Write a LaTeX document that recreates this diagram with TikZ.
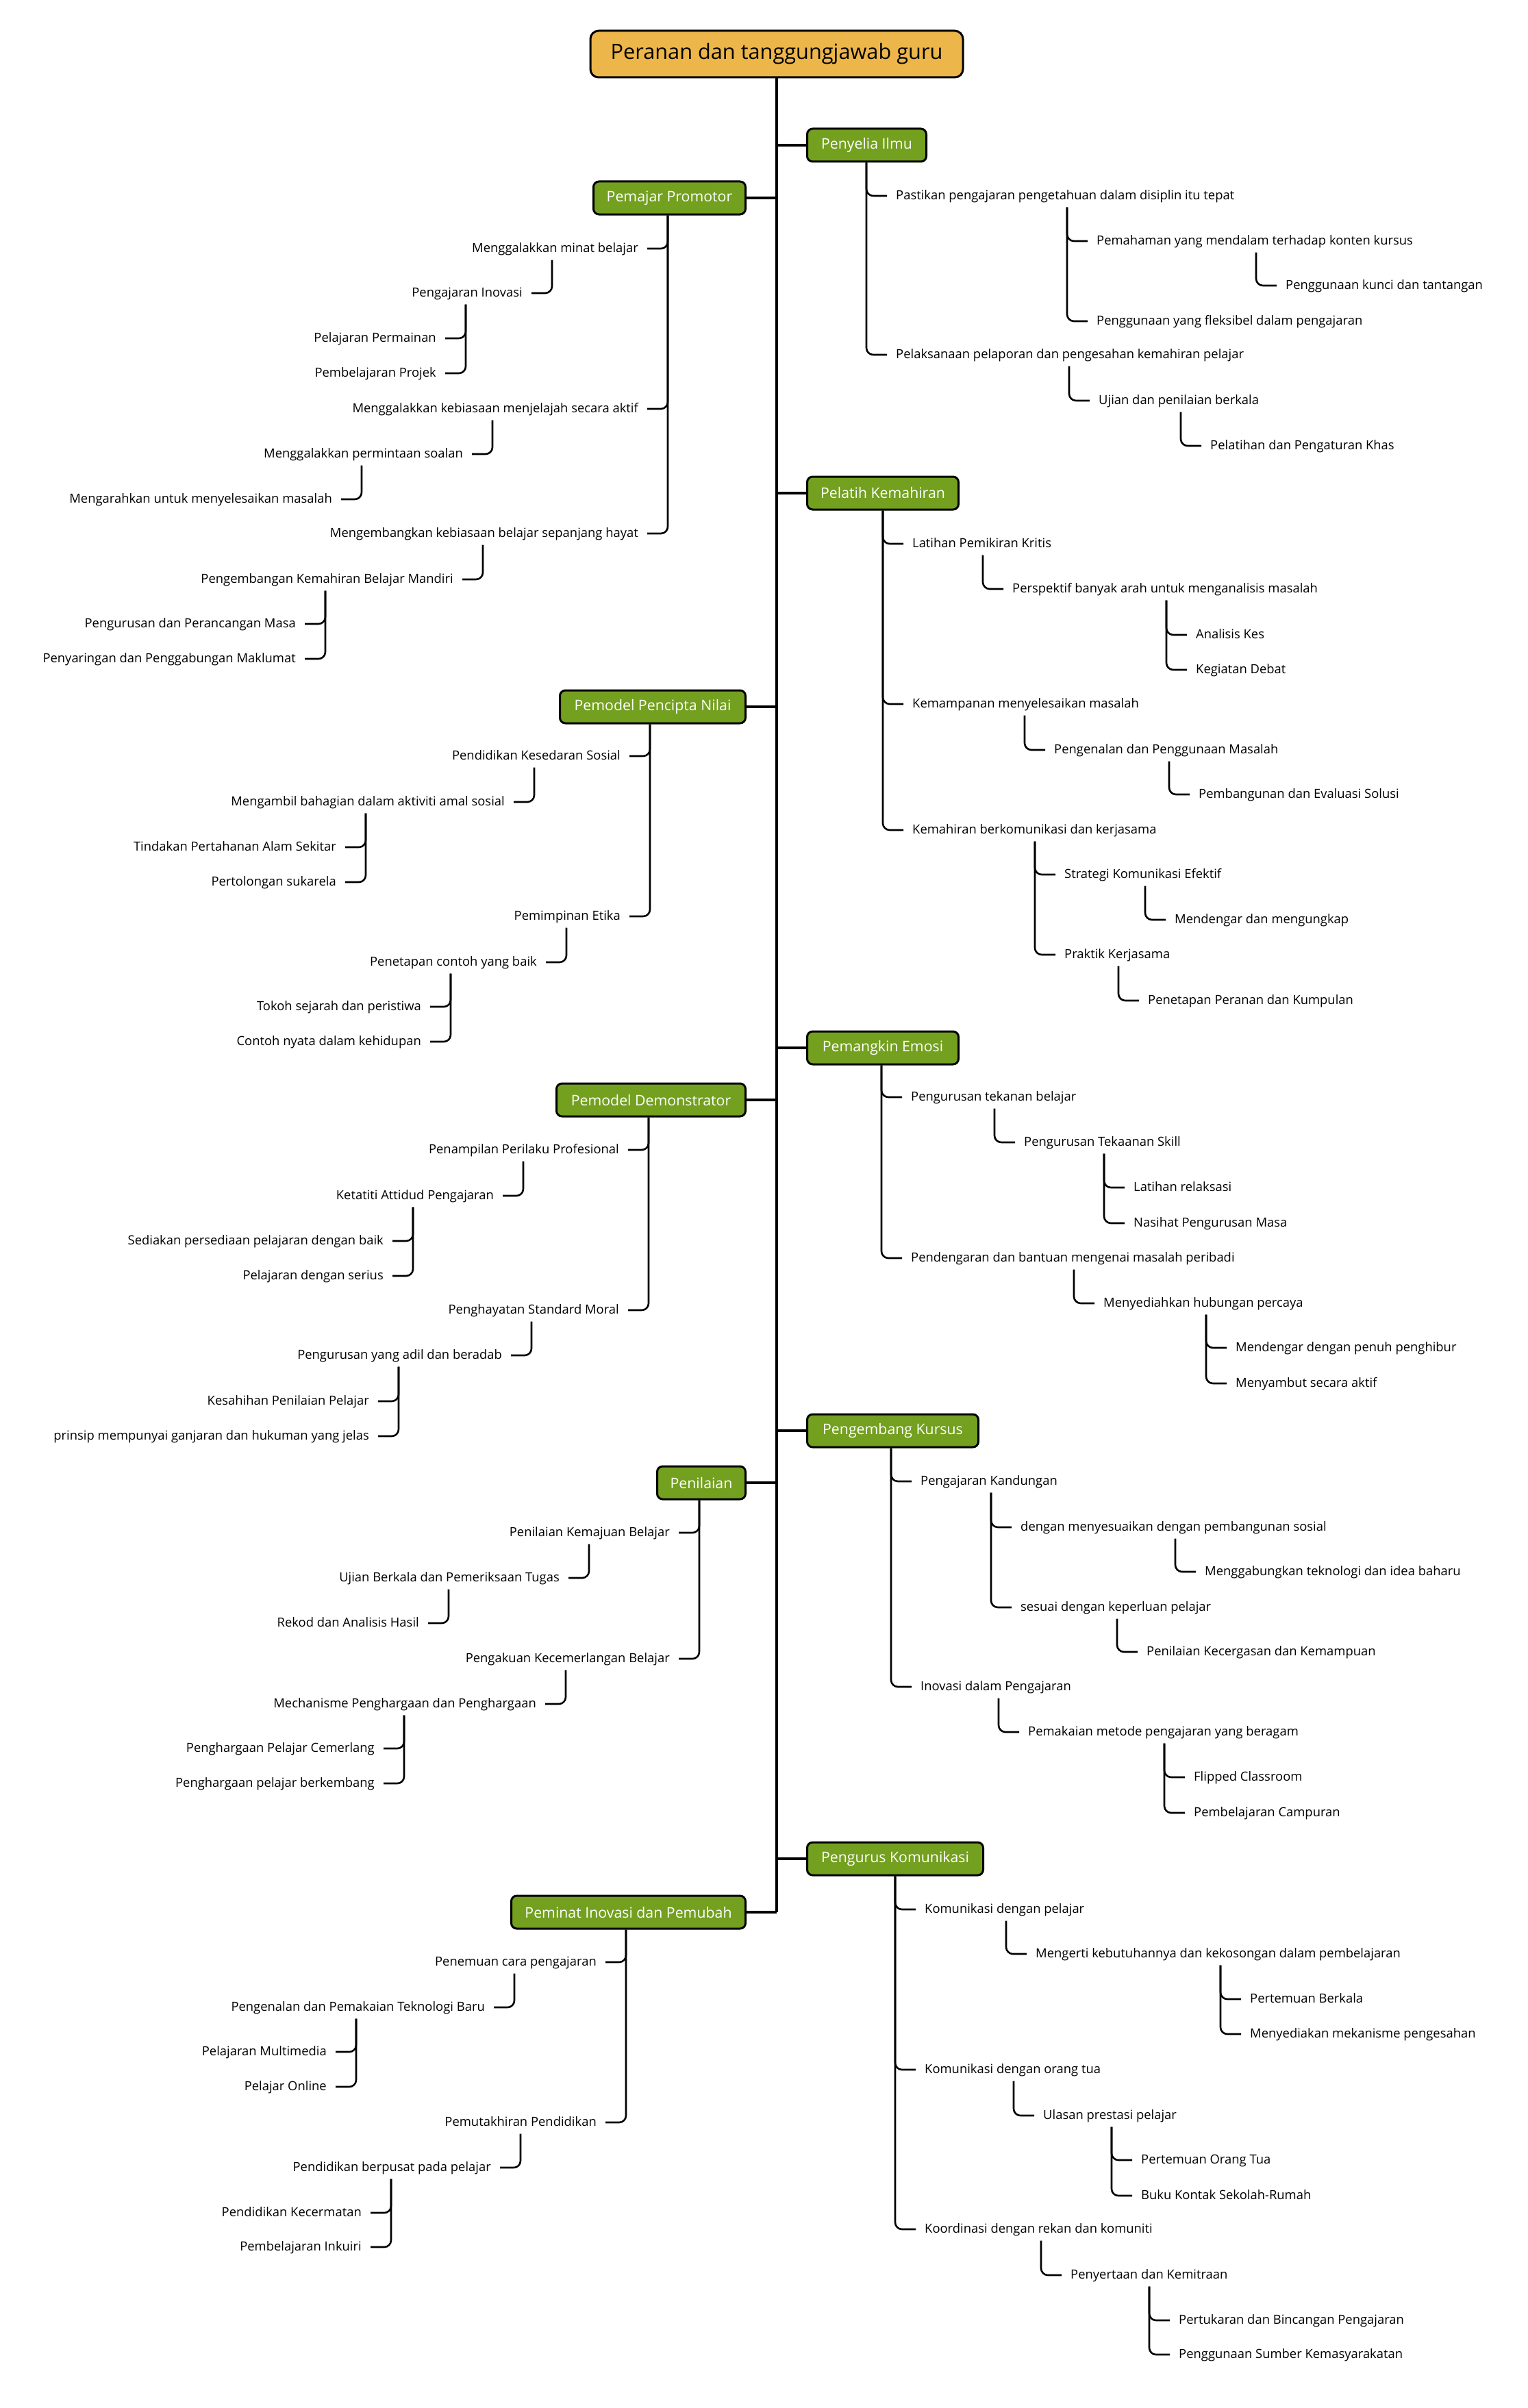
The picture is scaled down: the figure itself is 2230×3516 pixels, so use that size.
\documentclass[tikz,border=0pt]{standalone}
\usepackage{fontspec}
\setmainfont{Open Sans}
\usetikzlibrary{calc}
\definecolor{greenc}{RGB}{115,160,31}
\definecolor{rootc}{RGB}{237,182,74}
\newcommand\rconn[2]{\draw[conn] (#1.south -| #2.west) ++(-43,0) |- ($(#2.west)+(-13,0)$);}
\newcommand\lconn[2]{\draw[conn] (#1.south -| #2.east) ++(43,0) |- ($(#2.east)+(13,0)$);}
\tikzset{
  rootbox/.style={draw=black, line width=3pt, fill=rootc, rounded corners=12pt,
    font=\fontsize{30.7}{36}\selectfont, minimum height=68pt, minimum width=544pt, inner sep=0pt},
  mainbox/.style={draw=black, line width=3pt, fill=greenc, rounded corners=8pt, text=white,
    font=\fontsize{21.3}{26}\selectfont, minimum height=48pt, inner sep=0pt},
  leaf/.style={inner xsep=0pt, inner ysep=7.5pt, font=\fontsize{18.4}{22}\selectfont,
    text height=14pt, text depth=4pt},
  rl/.style={leaf, anchor=west},
  ll/.style={leaf, anchor=east},
  conn/.style={line width=2.6pt, rounded corners=10pt},
  trunk/.style={line width=3.5pt}
}
\begin{document}
\begin{tikzpicture}[x=1pt, y=-1pt]
\fill[white] (0,0) rectangle (2230,3516);
\useasboundingbox (0,0) rectangle (2230,3516);

\node[rootbox] (root) at (1134,79) {Peranan dan tanggungjawab guru};

% ---------- main nodes ----------
\node[mainbox, anchor=west, minimum width=174pt] (A) at (1177,212) {Penyelia Ilmu};
\node[mainbox, anchor=west, minimum width=221pt] (B) at (1177,720) {Pelatih Kemahiran};
\node[mainbox, anchor=west, minimum width=221pt] (C) at (1177,1530) {Pemangkin Emosi};
\node[mainbox, anchor=west, minimum width=250pt] (D) at (1177,2089) {Pengembang Kursus};
\node[mainbox, anchor=west, minimum width=257pt] (E) at (1177,2714) {Pengurus Komunikasi};

\node[mainbox, anchor=east, minimum width=222pt] (F) at (1090,289) {Pemajar Promotor};
\node[mainbox, anchor=east, minimum width=271pt] (G) at (1090,1032) {Pemodel Pencipta Nilai};
\node[mainbox, anchor=east, minimum width=276pt] (H) at (1090,1606) {Pemodel Demonstrator};
\node[mainbox, anchor=east, minimum width=129pt] (I) at (1090,2165) {Penilaian};
\node[mainbox, anchor=east, minimum width=342pt] (J) at (1090,2792) {Peminat Inovasi dan Pemubah};

\draw[trunk] (root.south) -- (root.south |- J.east);
\foreach \n in {A,B,C,D,E}{\draw[trunk] (root.south |- \n.west) -- (\n.west);}
\foreach \n in {F,G,H,I,J}{\draw[trunk] (root.south |- \n.east) -- (\n.east);}

% ---------- A: Penyelia Ilmu ----------
\node[rl] (a1) at (1308,286) {Pastikan pengajaran pengetahuan dalam disiplin itu tepat};
\node[rl] (a11) at (1601,352) {Pemahaman yang mendalam terhadap konten kursus};
\node[rl] (a111) at (1877,417) {Penggunaan kunci dan tantangan};
\node[rl] (a12) at (1601,469) {Penggunaan yang fleksibel dalam pengajaran};
\node[rl] (a2) at (1308,518) {Pelaksanaan pelaporan dan pengesahan kemahiran pelajar};
\node[rl] (a21) at (1604,585) {Ujian dan penilaian berkala};
\node[rl] (a211) at (1767,651) {Pelatihan dan Pengaturan Khas};
\rconn{A}{a1}\rconn{A}{a2}
\rconn{a1}{a11}\rconn{a1}{a12}\rconn{a11}{a111}
\rconn{a2}{a21}\rconn{a21}{a211}

% ---------- B: Pelatih Kemahiran ----------
\node[rl] (b1) at (1332,794) {Latihan Pemikiran Kritis};
\node[rl] (b11) at (1478,860) {Perspektif banyak arah untuk menganalisis masalah};
\node[rl] (b111) at (1746,927) {Analisis Kes};
\node[rl] (b112) at (1746,978) {Kegiatan Debat};
\node[rl] (b2) at (1332,1028) {Kemampanan menyelesaikan masalah};
\node[rl] (b21) at (1539,1095) {Pengenalan dan Penggunaan Masalah};
\node[rl] (b211) at (1750,1160) {Pembangunan dan Evaluasi Solusi};
\node[rl] (b3) at (1332,1212) {Kemahiran berkomunikasi dan kerjasama};
\node[rl] (b31) at (1554,1277) {Strategi Komunikasi Efektif};
\node[rl] (b311) at (1715,1343) {Mendengar dan mengungkap};
\node[rl] (b32) at (1554,1394) {Praktik Kerjasama};
\node[rl] (b321) at (1676,1461) {Penetapan Peranan dan Kumpulan};
\rconn{B}{b1}\rconn{B}{b2}\rconn{B}{b3}
\rconn{b1}{b11}\rconn{b11}{b111}\rconn{b11}{b112}
\rconn{b2}{b21}\rconn{b21}{b211}
\rconn{b3}{b31}\rconn{b31}{b311}\rconn{b3}{b32}\rconn{b32}{b321}

% ---------- C: Pemangkin Emosi ----------
\node[rl] (c1) at (1330,1602) {Pengurusan tekanan belajar};
\node[rl] (c11) at (1495,1668) {Pengurusan Tekaanan Skill};
\node[rl] (c111) at (1655,1734) {Latihan relaksasi};
\node[rl] (c112) at (1655,1786) {Nasihat Pengurusan Masa};
\node[rl] (c2) at (1330,1837) {Pendengaran dan bantuan mengenai masalah peribadi};
\node[rl] (c21) at (1611,1903) {Menyediahkan hubungan percaya};
\node[rl] (c211) at (1804,1968) {Mendengar dengan penuh penghibur};
\node[rl] (c212) at (1804,2020) {Menyambut secara aktif};
\rconn{C}{c1}\rconn{C}{c2}
\rconn{c1}{c11}\rconn{c11}{c111}\rconn{c11}{c112}
\rconn{c2}{c21}\rconn{c21}{c211}\rconn{c21}{c212}

% ---------- D: Pengembang Kursus ----------
\node[rl] (d1) at (1344,2163) {Pengajaran Kandungan};
\node[rl] (d11) at (1490,2230) {dengan menyesuaikan dengan pembangunan sosial};
\node[rl] (d111) at (1759,2295) {Menggabungkan teknologi dan idea baharu};
\node[rl] (d12) at (1490,2347) {sesuai dengan keperluan pelajar};
\node[rl] (d121) at (1674,2412) {Penilaian Kecergasan dan Kemampuan};
\node[rl] (d2) at (1344,2463) {Inovasi dalam Pengajaran};
\node[rl] (d21) at (1501,2529) {Pemakaian metode pengajaran yang beragam};
\node[rl] (d211) at (1743,2595) {Flipped Classroom};
\node[rl] (d212) at (1743,2647) {Pembelajaran Campuran};
\rconn{D}{d1}\rconn{D}{d2}
\rconn{d1}{d11}\rconn{d11}{d111}\rconn{d1}{d12}\rconn{d12}{d121}
\rconn{d2}{d21}\rconn{d21}{d211}\rconn{d21}{d212}

% ---------- E: Pengurus Komunikasi ----------
\node[rl] (e1) at (1350,2788) {Komunikasi dengan pelajar};
\node[rl] (e11) at (1512,2853) {Mengerti kebutuhannya dan kekosongan dalam pembelajaran};
\node[rl] (e111) at (1825,2919) {Pertemuan Berkala};
\node[rl] (e112) at (1825,2970) {Menyediakan mekanisme pengesahan};
\node[rl] (e2) at (1350,3022) {Komunikasi dengan orang tua};
\node[rl] (e21) at (1523,3089) {Ulasan prestasi pelajar};
\node[rl] (e211) at (1666,3154) {Pertemuan Orang Tua};
\node[rl] (e212) at (1666,3206) {Buku Kontak Sekolah-Rumah};
\node[rl] (e3) at (1350,3255) {Koordinasi dengan rekan dan komuniti};
\node[rl] (e31) at (1563,3322) {Penyertaan dan Kemitraan};
\node[rl] (e311) at (1721,3388) {Pertukaran dan Bincangan Pengajaran};
\node[rl] (e312) at (1721,3438) {Penggunaan Sumber Kemasyarakatan};
\rconn{E}{e1}\rconn{E}{e2}\rconn{E}{e3}
\rconn{e1}{e11}\rconn{e11}{e111}\rconn{e11}{e112}
\rconn{e2}{e21}\rconn{e21}{e211}\rconn{e21}{e212}
\rconn{e3}{e31}\rconn{e31}{e311}\rconn{e31}{e312}

% ---------- F: Pemajar Promotor ----------
\node[ll] (f1) at (932,363) {Menggalakkan minat belajar};
\node[ll] (f11) at (763,428) {Pengajaran Inovasi};
\node[ll] (f111) at (637,494) {Pelajaran Permainan};
\node[ll] (f112) at (637,545) {Pembelajaran Projek};
\node[ll] (f2) at (932,597) {Menggalakkan kebiasaan menjelajah secara aktif};
\node[ll] (f21) at (676,663) {Menggalakkan permintaan soalan};
\node[ll] (f211) at (485,729) {Mengarahkan untuk menyelesaikan masalah};
\node[ll] (f3) at (932,779) {Mengembangkan kebiasaan belajar sepanjang hayat};
\node[ll] (f31) at (662,846) {Pengembangan Kemahiran Belajar Mandiri};
\node[ll] (f311) at (432,911) {Pengurusan dan Perancangan Masa};
\node[ll] (f312) at (432,962) {Penyaringan dan Penggabungan Maklumat};
\lconn{F}{f1}\lconn{F}{f2}\lconn{F}{f3}
\lconn{f1}{f11}\lconn{f11}{f111}\lconn{f11}{f112}
\lconn{f2}{f21}\lconn{f21}{f211}
\lconn{f3}{f31}\lconn{f31}{f311}\lconn{f31}{f312}

% ---------- G: Pemodel Pencipta Nilai ----------
\node[ll] (g1) at (906,1104) {Pendidikan Kesedaran Sosial};
\node[ll] (g11) at (737,1171) {Mengambil bahagian dalam aktiviti amal sosial};
\node[ll] (g111) at (491,1237) {Tindakan Pertahanan Alam Sekitar};
\node[ll] (g112) at (491,1288) {Pertolongan sukarela};
\node[ll] (g2) at (906,1338) {Pemimpinan Etika};
\node[ll] (g21) at (784,1405) {Penetapan contoh yang baik};
\node[ll] (g211) at (615,1470) {Tokoh sejarah dan peristiwa};
\node[ll] (g212) at (615,1521) {Contoh nyata dalam kehidupan};
\lconn{G}{g1}\lconn{G}{g2}
\lconn{g1}{g11}\lconn{g11}{g111}\lconn{g11}{g112}
\lconn{g2}{g21}\lconn{g21}{g211}\lconn{g21}{g212}

% ---------- H: Pemodel Demonstrator ----------
\node[ll] (h1) at (904,1679) {Penampilan Perilaku Profesional};
\node[ll] (h11) at (721,1746) {Ketatiti Attidud Pengajaran};
\node[ll] (h111) at (560,1812) {Sediakan persediaan pelajaran dengan baik};
\node[ll] (h112) at (560,1863) {Pelajaran dengan serius};
\node[ll] (h2) at (904,1913) {Penghayatan Standard Moral};
\node[ll] (h21) at (733,1979) {Pengurusan yang adil dan beradab};
\node[ll] (h211) at (539,2046) {Kesahihan Penilaian Pelajar};
\node[ll] (h212) at (539,2097) {prinsip mempunyai ganjaran dan hukuman yang jelas};
\lconn{H}{h1}\lconn{H}{h2}
\lconn{h1}{h11}\lconn{h11}{h111}\lconn{h11}{h112}
\lconn{h2}{h21}\lconn{h21}{h211}\lconn{h21}{h212}

% ---------- I: Penilaian ----------
\node[ll] (i1) at (978,2238) {Penilaian Kemajuan Belajar};
\node[ll] (i11) at (817,2304) {Ujian Berkala dan Pemeriksaan Tugas};
\node[ll] (i111) at (612,2370) {Rekod dan Analisis Hasil};
\node[ll] (i2) at (978,2422) {Pengakuan Kecemerlangan Belajar};
\node[ll] (i21) at (783,2488) {Mechanisme Penghargaan dan Penghargaan};
\node[ll] (i211) at (547,2553) {Penghargaan Pelajar Cemerlang};
\node[ll] (i212) at (547,2604) {Penghargaan pelajar berkembang};
\lconn{I}{i1}\lconn{I}{i2}
\lconn{i1}{i11}\lconn{i11}{i111}
\lconn{i2}{i21}\lconn{i21}{i211}\lconn{i21}{i212}

% ---------- J: Peminat Inovasi dan Pemubah ----------
\node[ll] (j1) at (871,2865) {Penemuan cara pengajaran};
\node[ll] (j11) at (708,2931) {Pengenalan dan Pemakaian Teknologi Baru};
\node[ll] (j111) at (477,2996) {Pelajaran Multimedia};
\node[ll] (j112) at (477,3047) {Pelajar Online};
\node[ll] (j2) at (871,3099) {Pemutakhiran Pendidikan};
\node[ll] (j21) at (717,3165) {Pendidikan berpusat pada pelajar};
\node[ll] (j211) at (528,3231) {Pendidikan Kecermatan};
\node[ll] (j212) at (528,3281) {Pembelajaran Inkuiri};
\lconn{J}{j1}\lconn{J}{j2}
\lconn{j1}{j11}\lconn{j11}{j111}\lconn{j11}{j112}
\lconn{j2}{j21}\lconn{j21}{j211}\lconn{j21}{j212}
\end{tikzpicture}
\end{document}
